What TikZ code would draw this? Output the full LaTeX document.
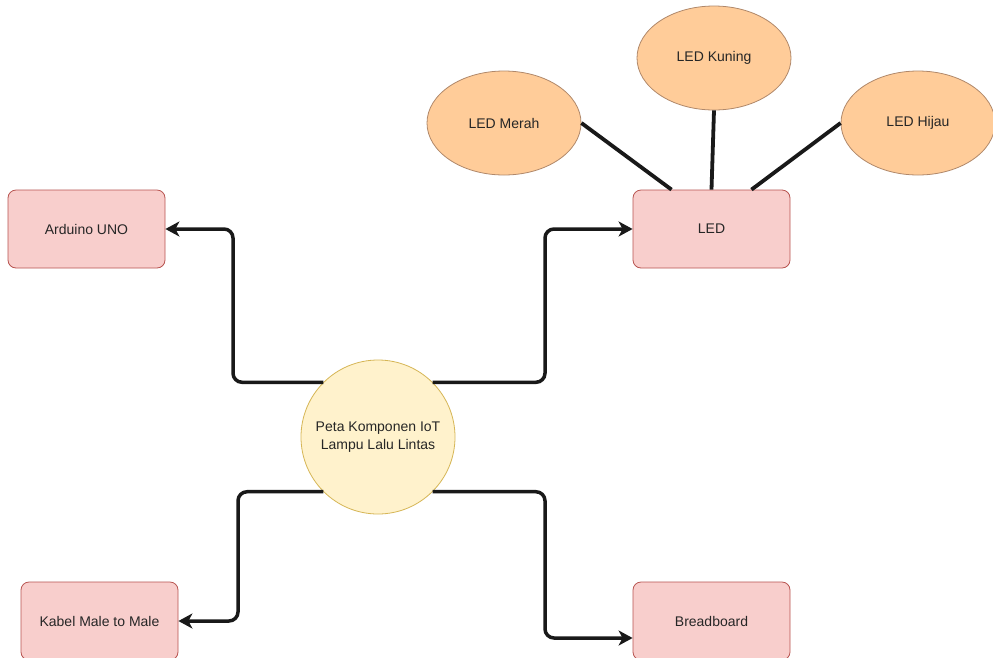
\documentclass[tikz,border=0pt]{standalone}
\usepackage{fontspec}
\setmainfont{Liberation Sans}
\usetikzlibrary{shapes.geometric,arrows.meta}
\definecolor{boxfill}{HTML}{F8CECC}
\definecolor{boxline}{HTML}{B85450}
\definecolor{ledfill}{HTML}{FFCC99}
\definecolor{ledline}{HTML}{B0886A}
\definecolor{hubfill}{HTML}{FFF2CC}
\definecolor{hubline}{HTML}{D6B656}
\begin{document}
\begin{tikzpicture}[x=1pt,y=-1pt,
  every node/.style={font=\fontsize{14}{18}\selectfont, text=black!85},
  compbox/.style={draw=boxline, fill=boxfill, rounded corners=8pt, minimum width=157pt, minimum height=78pt, inner sep=0pt, line width=0.8pt},
  ledell/.style={ellipse, draw=ledline, fill=ledfill, minimum width=154pt, minimum height=104pt, inner sep=0pt, line width=0.8pt},
  hub/.style={circle, draw=hubline, fill=hubfill, minimum size=154pt, inner sep=0pt, align=center, line width=0.8pt},
  conn/.style={line width=3.5pt, black!90, rounded corners=9pt, -{Stealth[length=14pt,width=15pt,inset=4pt]}},
  link/.style={line width=3.8pt, black!90}]
\useasboundingbox (0,0) rectangle (993,657);
\fill[white] (0,0) rectangle (993,657);

% nodes
\node[compbox] (ard) at (86.5,229) {Arduino UNO};
\node[compbox] (led) at (711.5,229) {LED};
\node[compbox] (kab) at (99.5,621) {Kabel Male to Male};
\node[compbox] (brd) at (711.5,621) {Breadboard};
\node[ledell] (merah) at (504,123) {LED Merah};
\node[ledell] (kuning) at (714,58) {LED Kuning};
\node[ledell] (hijau) at (918,123) {LED Hijau};
\node[hub] (hub) at (378,437) {Peta Komponen IoT\\Lampu Lalu Lintas};

% LED links
\draw[link] (merah.east) -- ([xshift=-40pt]led.north);
\draw[link] (kuning.south) -- (led.north);
\draw[link] (hijau.west) -- ([xshift=40pt]led.north);

% connectors
\coordinate (ba) at (233,229);
\coordinate (bl) at (545,229);
\coordinate (bk) at (238,621);
\coordinate (bb) at (545,638);
\draw[conn] (hub.135) -| (ba) -- (ard.east);
\draw[conn] (hub.45) -| (bl) -- (led.west);
\draw[conn] (hub.225) -| (bk) -- (kab.east);
\draw[conn] (hub.315) -| (bb) -- (brd.west |- bb);
\end{tikzpicture}
\end{document}
